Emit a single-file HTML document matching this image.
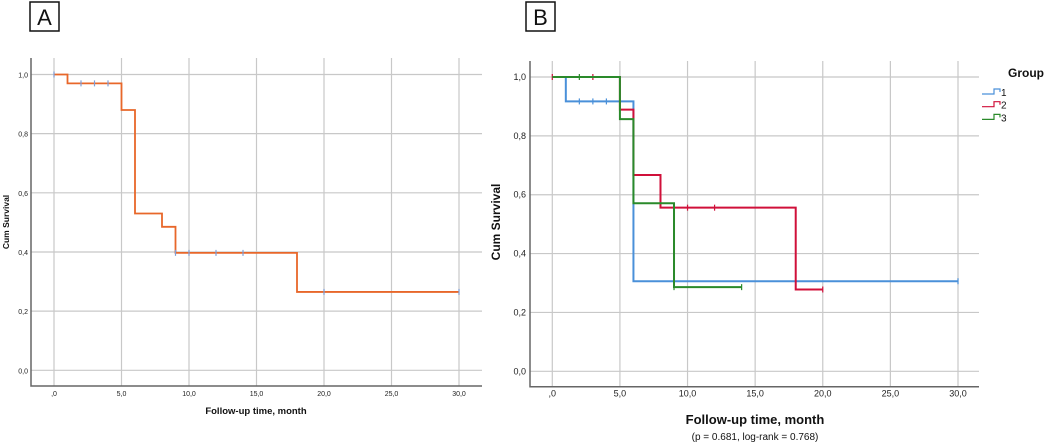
<!DOCTYPE html>
<html><head><meta charset="utf-8"><style>
html,body{margin:0;padding:0;background:#fff;}
svg{display:block;font-family:"Liberation Sans",sans-serif;}
</style></head><body>
<svg id="s" width="1052" height="445" xmlns="http://www.w3.org/2000/svg"></svg>
<script>
// ---- data ----
const xTicks=[0,5,10,15,20,25,30];
const xTickLabels=[",0","5,0","10,0","15,0","20,0","25,0","30,0"];
const yTicks=[0,0.2,0.4,0.6,0.8,1.0];
const yTickLabels=["0,0","0,2","0,4","0,6","0,8","1,0"];
// Panel A
const aTimes=[0,1,5,6,8,9,18,30];
const aSurv=[1.0,0.97,0.88,0.53,0.485,0.397,0.265,0.265];
const aCensT=[0,2,3,4,9,10,12,14,20,30];
const aCensS=[1.0,0.97,0.97,0.97,0.397,0.397,0.397,0.397,0.265,0.265];
// Panel B
const groups=["1","2","3"];
const g1Times=[0,1,6,30];
const g1Surv=[1.0,0.917,0.306,0.306];
const g1CensT=[2,3,4,30];
const g1CensS=[0.917,0.917,0.917,0.306];
const g2Times=[0,5,6,8,18,20];
const g2Surv=[1.0,0.889,0.667,0.556,0.278,0.278];
const g2CensT=[0,3,10,12,20];
const g2CensS=[1.0,1.0,0.556,0.556,0.278];
const g3Times=[0,5,6,9,14];
const g3Surv=[1.0,0.857,0.571,0.286,0.286];
const g3CensT=[2,9,14];
const g3CensS=[1.0,0.286,0.286];

const NS="http://www.w3.org/2000/svg";
const svg=document.getElementById('s');
function el(tag,attrs,parent,text){const e=document.createElementNS(NS,tag);for(const k in attrs)e.setAttribute(k,attrs[k]);if(text!==undefined)e.textContent=text;(parent||svg).appendChild(e);return e;}

function panel(cfg){
  const g=el('g',{});
  
  
  const X=v=>cfg.x0+v*(cfg.x30-cfg.x0)/30;
  const Y=v=>cfg.y0+v*(cfg.y1-cfg.y0);
  xTicks.forEach((t,i)=>{
    const l=el('line',{x1:X(t),x2:X(t),y1:cfg.top,y2:cfg.bottom,stroke:'#c8c8c8','stroke-width':1.2},g);
    
    
    const tx=el('text',{x:X(t),y:cfg.bottom+10,'font-size':cfg.tickFs,'text-anchor':'middle',fill:'#222'},g,xTickLabels[i]);
    
    
  });
  yTicks.forEach((t,i)=>{
    const l=el('line',{x1:cfg.left,x2:cfg.right,y1:Y(t),y2:Y(t),stroke:'#c8c8c8','stroke-width':1.2},g);
    
    
    const tx=el('text',{x:cfg.ylabX,y:Y(t)+3,'font-size':cfg.tickFs,'text-anchor':'end',fill:'#222'},g,yTickLabels[i]);
    
    
  });
  const ax=el('path',{d:`M${cfg.left},${cfg.top}V${cfg.bottom}H${cfg.right}`,fill:'none',stroke:'#666','stroke-width':1.5},g);
  
  
  cfg.series.forEach(s=>{
    let d=`M${X(s.t[0])},${Y(s.s[0])}`;
    for(let i=1;i<s.t.length;i++){d+=`H${X(s.t[i])}V${Y(s.s[i])}`;}
    const p=el('path',{d:d,fill:'none',stroke:s.color,'stroke-width':s.w},g);
    
    
    s.ct.forEach((c,i)=>{
      const m=el('line',{x1:X(c),x2:X(c),y1:Y(s.cs[i])-3,y2:Y(s.cs[i])+3,stroke:s.ccolor,'stroke-width':1.2},g);
      
      
    });
  });
  return g;
}

panel({name:'panel-a-chart',x0:54,x30:459,y0:370.3,y1:74.5,top:58,bottom:386,left:31,right:482,ylabX:28,tickFs:7,
  series:[{id:'all',t:aTimes,s:aSurv,ct:aCensT,cs:aCensS,color:'#e8672a',ccolor:'#7f9fd8',w:1.8}]});
panel({name:'panel-b-chart',x0:552.3,x30:958,y0:371.3,y1:77,top:61,bottom:386.7,left:530,right:979,ylabX:526,tickFs:9,
  series:[
   {id:'group-1',t:g1Times,s:g1Surv,ct:g1CensT,cs:g1CensS,color:'#4a90d9',ccolor:'#4a90d9',w:2},
   {id:'group-2',t:g2Times,s:g2Surv,ct:g2CensT,cs:g2CensS,color:'#d0103a',ccolor:'#d0103a',w:2},
   {id:'group-3',t:g3Times,s:g3Surv,ct:g3CensT,cs:g3CensS,color:'#2a8a2a',ccolor:'#2a8a2a',w:2}]});

// panel labels
let e;
e=el('rect',{x:30,y:2,width:29,height:29,fill:'#fff',stroke:'#111','stroke-width':1.5});


e=el('text',{x:44.5,y:25,'font-size':22,'text-anchor':'middle',fill:'#111'},svg,'A');


e=el('rect',{x:526,y:2,width:29,height:29,fill:'#fff',stroke:'#111','stroke-width':1.5});


e=el('text',{x:540.5,y:25,'font-size':22,'text-anchor':'middle',fill:'#111'},svg,'B');



// axis titles
e=el('text',{x:256,y:414,'font-size':9.5,'font-weight':'bold','text-anchor':'middle',fill:'#111'},svg,'Follow-up time, month');


e=el('text',{x:0,y:0,'font-size':8.5,'font-weight':'bold','text-anchor':'middle',fill:'#111',transform:'translate(9,222) rotate(-90)'},svg,'Cum Survival');


e=el('text',{x:755,y:424,'font-size':13,'font-weight':'bold','text-anchor':'middle',fill:'#111'},svg,'Follow-up time, month');


e=el('text',{x:755,y:440,'font-size':10,'text-anchor':'middle',fill:'#111'},svg,'(p = 0.681, log-rank = 0.768)');


e=el('text',{x:0,y:0,'font-size':12,'font-weight':'bold','text-anchor':'middle',fill:'#111',transform:'translate(500,222) rotate(-90)'},svg,'Cum Survival');



// legend
e=el('text',{x:1008,y:77,'font-size':12,'font-weight':'bold',fill:'#111'},svg,'Group');


const legColors=['#4a90d9','#d0103a','#2a8a2a'];
groups.forEach((gname,i)=>{
  const y=91+i*12.7;
  const lg=el('g',{});
  
  
  el('path',{d:`M982,${y+3}H994V${y-2}H1000V${y+1}`,fill:'none',stroke:legColors[i],'stroke-width':1.2},lg);
  el('text',{x:1001,y:y+5,'font-size':10,fill:'#111'},lg,gname);
});
</script>
</body></html>
